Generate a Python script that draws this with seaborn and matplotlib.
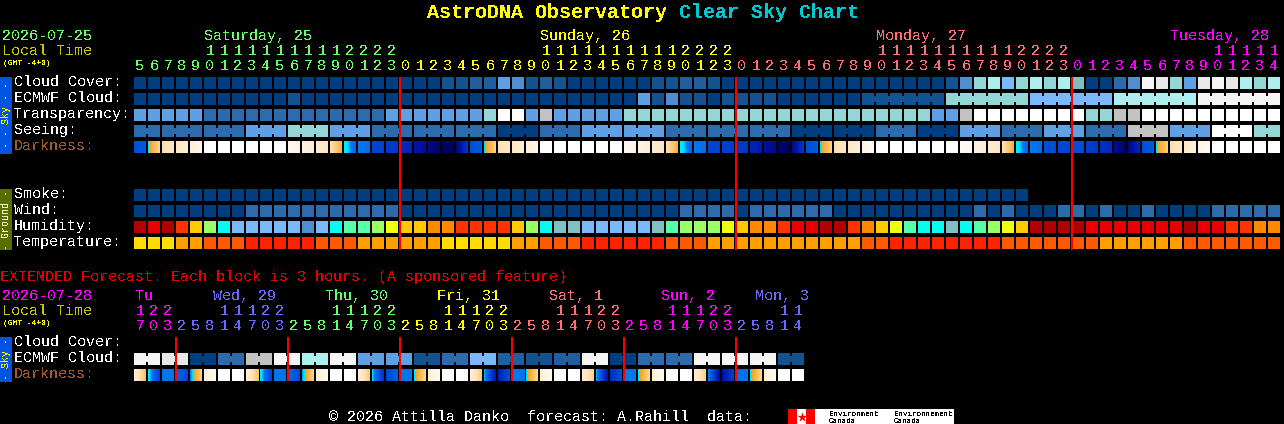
import numpy as np
import matplotlib
matplotlib.use("Agg")
import matplotlib.pyplot as plt
from matplotlib.colors import ListedColormap, LinearSegmentedColormap
from matplotlib.patches import Rectangle
import seaborn as sns

#-----------------------------------#
# Data           #
#-----------------------------------#

# main chart: one value per hour, 82 columns, first hour is 05:00
first_hour = 5
day_ends = [19, 43, 67, 82]

cloud_cover = [0]*19 + [
    0, 0, 0, 1, 1, 2, 2, 5, 4, 1, 2, 1, 0, 0, 0, 0, 0, 0, 1, 1, 2, 2, 1, 0,
    0, 0, 0, 0, 0, 0, 0, 0, 0, 0, 0, 0, 0, 0, 0, 1, 4, 8, 9, 6, 8, 9, 8, 9,
    7, 0, 0, 3, 4, 12, 11, 8, 5, 11, 12, 11, 9, 8, 9]

ecmwf_cloud = [0]*11 + [1] + [0]*7 + [0]*17 + [
    5, 1, 4, 1, 1, 0, 1,
    1, 1, 1, 0, 0, 0, 0, 0, 0] + [1]*6 + [8]*6 + [6]*6 + [9]*6 + [12]*6
ecmwf_blocks = [1]*52 + [6]*5

transparency = [5]*5 + [3]*13 + [5] + [
    5, 5, 5, 5, 5, 5, 8, 13, 13, 5, 10, 5, 5, 5, 5, 5] + [8]*8 + [8]*14 + [
    5, 5, 10] + [13]*7 + [13, 8, 8, 10, 10] + [13]*10

seeing_levels = [3, 3, 3, 5, 8, 5, 3, 3, 3, 0, 3, 5, 5, 3, 3, 3, 0, 0, 3, 0,
                 5, 3, 5, 3, 10, 5, 13, 8]
seeing_blocks = [2] + [3]*26 + [2]

dark_left = [
    .33, .50, .72, .78, .85, 1, 1, 1, 1, 1, 1, .95, .90, .84, .76, .55, .45, .30, .27,
    .22, .14, .08, .02, .03, .33, .50, .72, .78, .85, 1, 1, 1, 1, 1, 1, .95, .90, .84, .76, .55, .45, .30, .28,
    .27, .20, .12, .03, .05, .33, .50, .72, .78, .90, 1, 1, 1, 1, 1, 1, .97, .90, .84, .76, .55, .45, .33, .30,
    .34, .28, .24, .10, .04, .33, .50, .72, .80, .90, 1, 1, 1, 1, 1]
dark_right = [
    .36, .72, .80, .85, .93, 1, 1, 1, 1, 1, 1, .90, .84, .76, .56, .38, .42, .28, .25,
    .18, .10, .03, .02, .28, .36, .70, .80, .85, .93, 1, 1, 1, 1, 1, 1, .90, .84, .76, .56, .38, .42, .28, .27,
    .24, .14, .07, .02, .28, .36, .70, .80, .85, .97, 1, 1, 1, 1, 1, 1, .93, .84, .76, .56, .38, .42, .31, .30,
    .32, .25, .20, .02, .22, .36, .68, .80, .88, .96, 1, 1, 1, 1, 1]

smoke = [0]*64 + [np.nan]*18

wind = [0]*8 + [3]*11 + [0]*20 + [3]*4 + [0, 3, 3, 3, 3, 3, 3, 0, 0] + [0]*8 + [
    3, 0, 3, 0, 0, 0, 3, 3, 0, 3, 0, 0, 3, 0, 0, 0, 0, 3, 3, 3, 3, 3]

humidity = [
    0, 1, 0, 2, 4, 6, 8, 10, 10, 10, 10, 10, 11, 10, 8, 7, 7, 6, 5,
    4, 4, 3, 3, 2, 2, 2, 2, 4, 6, 8, 9, 9, 10, 10, 10, 10, 10, 9, 7, 6, 6, 6, 5,
    4, 3, 3, 2, 1, 1, 0, 0, 2, 3, 4, 5, 7, 8, 8, 9, 8, 7, 6, 5, 4, 0, 0, 0,
    0, 1, 1, 1, 1, 1, 1, 1, 0, 1, 1, 2, 2, 3, 3]

temperature = [
    0, 0, 0, 1, 1, 2, 2, 2, 3, 3, 3, 3, 3, 2, 2, 2, 1, 1, 1,
    1, 1, 1, 0, 0, 0, 0, 0, 1, 1, 2, 2, 2, 3, 3, 3, 3, 3, 3, 2, 2, 2, 1, 1,
    1, 1, 1, 1, 1, 1, 1, 1, 1, 2, 2, 3, 3, 3, 3, 3, 3, 3, 3, 2, 2, 2, 2, 2,
    2, 2, 1, 1, 1, 1, 1, 1, 2, 2, 2, 2, 2, 2, 2]

# extended forecast: 48 labels at 3 hours each, cloud blocks cover two of them
ext_first_hour = 17
ext_day_ends = [3, 11, 19, 27, 35, 43, 48]
ext_ecmwf = [12, 11, 0, 3, 10, 12, 9, 12, 5, 5, 1, 3, 6, 2, 1, 2, 12, 0, 3, 3,
             12, 12, 12, 1]
ext_dark_left = [
    .85, .55, .45, .42, .42, .85, 1, 1,
    .88, .56, .45, .42, .44, .85, 1, 1,
    .88, .53, .28, .44, .48, .85, 1, 1,
    .88, .52, .15, .45, .48, .85, 1, 1,
    .85, .52, .20, .45, .48, .85, 1, 1,
    .85, .50, .10, .42, .48, .85, 1, 1]
ext_dark_right = [
    .60, .25, .45, .28, .72, .93, 1, 1,
    .60, .25, .44, .30, .72, .95, 1, 1,
    .62, .20, .40, .44, .72, .95, 1, 1,
    .62, .10, .35, .44, .72, .95, 1, 1,
    .65, .08, .35, .44, .72, .95, 1, 1,
    .65, .05, .30, .44, .72, .95, 1, 1]

# (text, column where it starts)
day_labels = [("Saturday, 25", 5), ("Sunday, 26", 29), ("Monday, 27", 53), ("Tuesday, 28", 74)]
ext_day_labels = [("Tu", 135), ("Wed, 29", 213), ("Thu, 30", 325), ("Fri, 31", 437),
                  ("Sat, 1", 549), ("Sun, 2", 661), ("Mon, 3", 755)]
red_columns = [19, 43, 67]
ext_red_columns = [3, 11, 19, 27, 35, 43]

# colours
sky_colors = ["#003f7f", "#13538f", "#1f5f9f", "#2c6cad", "#4f8fd0", "#5fa0e4", "#7bb8fa",
              "#80bebe", "#94d6d6", "#aeeeee", "#c2c2c2", "#e8e8e8", "#f5f5f5", "#ffffff"]
humidity_colors = ["#b00000", "#e80000", "#ff3300", "#ff8800", "#ffc800", "#eeff11", "#99ff66",
                   "#55ffaa", "#00ffee", "#80c0c0", "#7bb8fa", "#4f8fd0"]
temperature_colors = ["#ffdd00", "#ffa000", "#ff5a00", "#ff2200"]
dark_cmap = LinearSegmentedColormap.from_list("darkness", [
    (0, "#000050"), (.12, "#0010a8"), (.33, "#0050d8"), (.45, "#0078f0"), (.50, "#00e8ff"),
    (.535, "#00e8ff"), (.54, "#ffa020"), (.65, "#ffc870"), (.75, "#ffe4bc"), (.90, "#fff4e4"),
    (1, "#ffffff")], N=1024)

GREEN, YELLOW, SALMON, MAGENTA, PERIWINKLE = "#66ff66", "#ffff00", "#ff7070", "#ff00ff", "#6a6aff"
day_colors = [GREEN, YELLOW, SALMON, MAGENTA]
ext_day_colors = [MAGENTA, PERIWINKLE, GREEN, YELLOW, SALMON, MAGENTA, PERIWINKLE]
OLIVE = "#c8c800"
BROWN = "#a05a28"

#-----------------------------------#
# Helpers                           #
#-----------------------------------#

W, H = 1284, 424
PITCH = 14          # px from one cell to the next
GAP = 2             # px between cells
LEFT = 134          # px, first cell
lw = GAP * 72 / 100  # heatmap line width in points

sns.set_theme(style="dark", rc={"figure.facecolor": "black", "axes.facecolor": "black"})
plt.rcParams["font.family"] = ["Liberation Mono", "DejaVu Sans Mono"]
plt.rcParams["text.antialiased"] = False  # the reference text has hard pixels

fig = plt.figure(figsize=(W / 100, H / 100), dpi=100)


def row_axes(y_top, n):
    # axes reach 1 px past the cell on each side, the heatmap lines eat that
    return fig.add_axes([(LEFT - 1) / W, 1 - (y_top + 13) / H, n * PITCH / W, PITCH / H])


def draw_row(y_top, values, colors, blocks=None):
    ax = row_axes(y_top, len(values))
    sns.heatmap([values], cmap=ListedColormap(colors), vmin=-0.5, vmax=len(colors) - 0.5,
                linewidths=lw, linecolor="black", cbar=False,
                xticklabels=False, yticklabels=False, ax=ax)
    # joined cells get a short bridge across the gap
    if blocks is not None:
        start = 0
        for size in blocks:
            for i in range(start + 1, start + size):
                ax.bar(i, 6 / PITCH, width=GAP / PITCH, bottom=4 / PITCH,
                       color=colors[values[i]], linewidth=0, zorder=3)
            start += size
    ax.axis("off")
    return ax


def draw_darkness(y_top, left, right):
    n = len(left)
    ax = row_axes(y_top, n)
    sns.heatmap([left], cmap=dark_cmap, vmin=0, vmax=1, linewidths=lw, linecolor="black",
                cbar=False, xticklabels=False, yticklabels=False, ax=ax)
    pad = (GAP / 2) / PITCH
    for i in range(n):
        # two pixel image, stretched so the pixel centres sit on the cell edges
        im = ax.imshow([[left[i], right[i]]], cmap=dark_cmap, vmin=0, vmax=1, aspect="auto",
                       interpolation="bilinear", interpolation_stage="data",
                       extent=(i - 0.5, i + 1.5, 1, 0), zorder=3)
        im.set_clip_path(Rectangle((i + pad, pad), 1 - 2 * pad, 1 - 2 * pad, transform=ax.transData))
    ax.set_xlim(0, n)
    ax.set_ylim(1, 0)
    ax.axis("off")


def label(x, y, s, color="white", px=15, **kw):
    # y is the baseline, in px from the top
    ov.text(x, y, s, color=color, fontsize=px * 0.72, va="baseline", **kw)


def hour_labels(first, step, ends, colors, y_tens, y_ones):
    day = 0
    for i in range(ends[-1]):
        while i >= ends[day]:
            day += 1
        hour = (first + step * i) % 24
        x = LEFT + PITCH * i + 6
        label(x, y_ones, str(hour % 10), colors[day], ha="center")
        if hour >= 10:
            label(x, y_tens, str(hour // 10), colors[day], ha="center")


#-----------------------------------#
# Rows                              #
#-----------------------------------#

draw_row(77, cloud_cover, sky_colors)
draw_row(93, ecmwf_cloud, sky_colors, blocks=ecmwf_blocks)
draw_row(109, transparency, sky_colors)
draw_row(125, list(np.repeat(seeing_levels, seeing_blocks)), sky_colors, blocks=seeing_blocks)
draw_darkness(141, dark_left, dark_right)

draw_row(189, smoke, sky_colors)
draw_row(205, wind, sky_colors)
draw_row(221, humidity, humidity_colors)
draw_row(237, temperature, temperature_colors)

draw_row(353, list(np.repeat(ext_ecmwf, 2)), sky_colors, blocks=[2] * len(ext_ecmwf))
draw_darkness(369, ext_dark_left, ext_dark_right)

#-----------------------------------#
# Text, bands and red lines on top  #
#-----------------------------------#

ov = fig.add_axes([0, 0, 1, 1], zorder=10)
ov.set_xlim(0, W)
ov.set_ylim(H, 0)
ov.patch.set_alpha(0)
ov.axis("off")

label(427, 18, "AstroDNA Observatory", YELLOW, px=20, fontweight="bold")
label(679, 18, "Clear Sky Chart", "#00c8d0", px=20, fontweight="bold")

label(2, 40, "2026-07-25", GREEN)
label(2, 55, "Local Time", OLIVE)
label(3, 65, "(GMT -4+0)", YELLOW, px=8)
for (text, col), color in zip(day_labels, day_colors):
    label(LEFT + PITCH * col, 40, text, color)
hour_labels(first_hour, 1, day_ends, day_colors, 55, 70)

for y, text, color in [(86, "Cloud Cover:", "white"), (102, "ECMWF Cloud:", "white"),
                       (118, "Transparency:", "white"), (134, "Seeing:", "white"),
                       (150, "Darkness:", BROWN), (198, "Smoke:", "white"),
                       (214, "Wind:", "white"), (230, "Humidity:", "white"),
                       (246, "Temperature:", "white"), (346, "Cloud Cover:", "white"),
                       (362, "ECMWF Cloud:", "white"), (378, "Darkness:", BROWN)]:
    label(14, y, text, color)

for y0, y1, color, text, text_color in [(77, 154, "#0055e0", "- - Sky - -", YELLOW),
                                        (189, 250, "#5a6e00", "- Ground -", "#f0f0c0"),
                                        (337, 382, "#0055e0", "- Sky -", YELLOW)]:
    ov.add_patch(Rectangle((0, y0), 12, y1 - y0, color=color, linewidth=0))
    ov.text(6, (y0 + y1) / 2, text, color=text_color, fontsize=7.2, rotation=90,
            ha="center", va="center")

label(0, 281, "EXTENDED Forecast. Each block is 3 hours. (A sponsored feature)", "#e80000")
label(2, 300, "2026-07-28", MAGENTA)
label(2, 315, "Local Time", OLIVE)
label(3, 325, "(GMT -4+0)", YELLOW, px=8)
for (text, x), color in zip(ext_day_labels, ext_day_colors):
    label(x, 300, text, color)
hour_labels(ext_first_hour, 3, ext_day_ends, ext_day_colors, 315, 330)

ov.vlines([LEFT + PITCH * c for c in red_columns], 77, 250, color="#ff0000", linewidth=lw)
ov.vlines([LEFT + PITCH * c for c in ext_red_columns], 337, 381, color="#ff0000", linewidth=lw)

label(329, 421, "© 2026 Attilla Danko  forecast: A.Rahill  data:")

# Environment Canada logo strip
ov.add_patch(Rectangle((788, 409), 166, 15, color="white", linewidth=0))
ov.add_patch(Rectangle((788, 409), 9, 15, color="#ff0000", linewidth=0))
ov.add_patch(Rectangle((806, 409), 9, 15, color="#ff0000", linewidth=0))
ov.scatter([801.5], [416.5], marker="*", s=55, color="#ff0000", linewidth=0)
for x, text in [(829, "Environment"), (894, "Environnement")]:
    label(x, 416, text, "black", px=7.5)
    label(x, 423, "Canada", "black", px=7.5)

fig.savefig("out.png", dpi=100, facecolor="black")
